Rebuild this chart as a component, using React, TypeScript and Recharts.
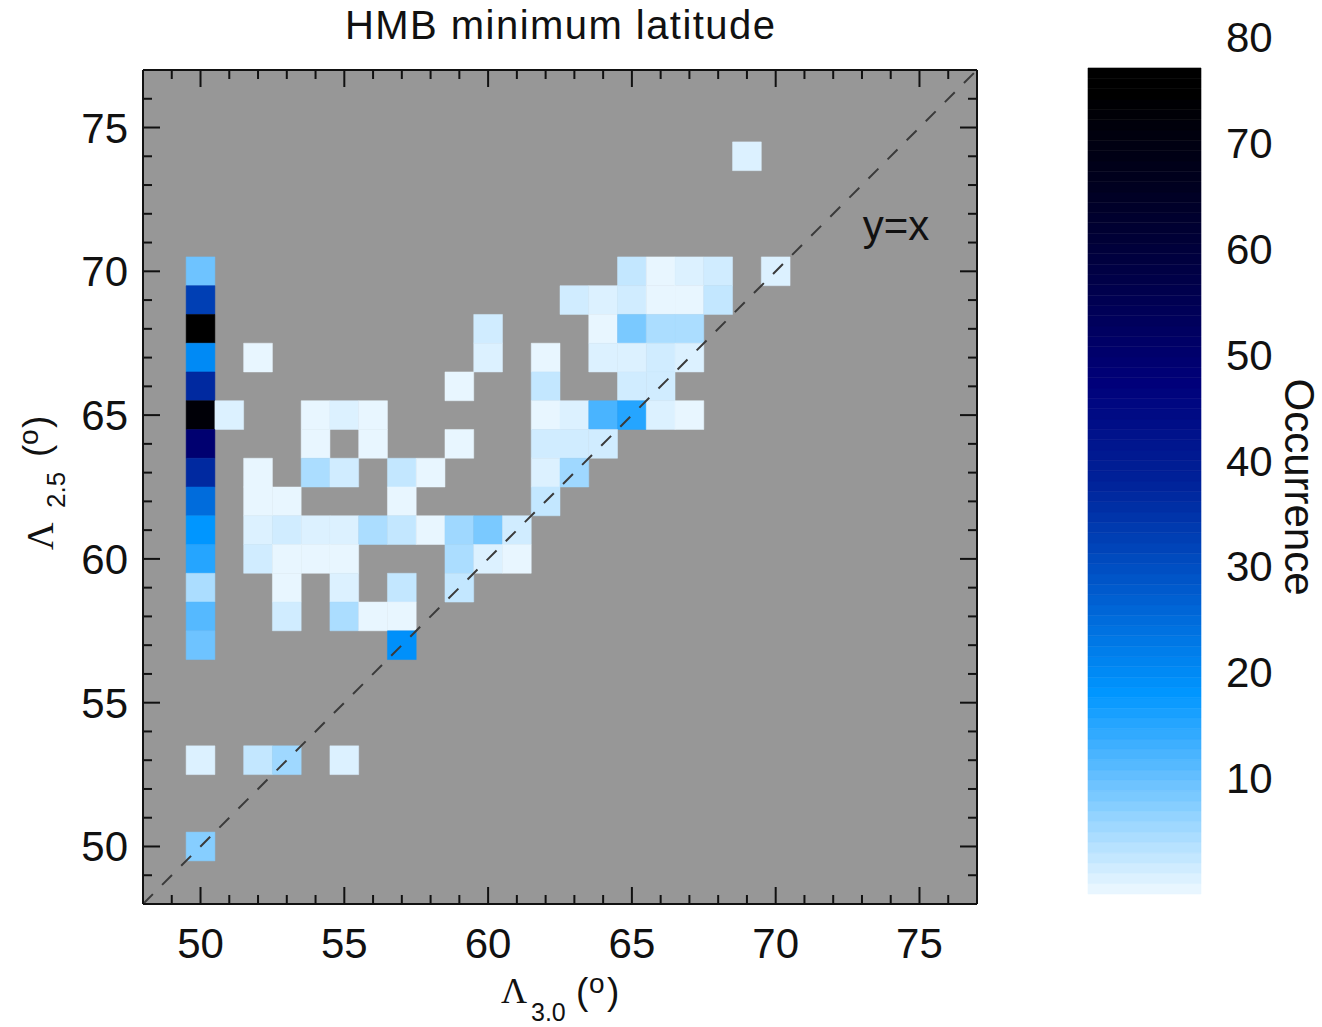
import React from 'react';
import {
  ScatterChart,
  XAxis,
  YAxis,
  ReferenceArea,
  ReferenceLine,
  ReferenceDot,
} from 'recharts';

// ---------------- data ----------------
const chartTitle = 'HMB minimum latitude';
const axisDomain: [number, number] = [48, 77];
// all integer tick positions (labels only on multiples of 5)
const axisTicks = [49, 50, 51, 52, 53, 54, 55, 56, 57, 58, 59, 60, 61, 62, 63, 64, 65, 66, 67, 68, 69, 70, 71, 72, 73, 74, 75, 76];
const colorbarTicks = [10, 20, 30, 40, 50, 60, 70, 80];
const colorbarMax = 80;

// histogram cells: Λ3.0 (x), Λ2.5 (y), occurrence count
const cellX = [
  69,
  50, 65, 66, 67, 68, 70,
  50, 63, 64, 65, 66, 67, 68,
  50, 60, 64, 65, 66, 67,
  50, 52, 60, 62, 64, 65, 66, 67,
  50, 59, 62, 65, 66,
  50, 51, 54, 55, 56, 62, 63, 64, 65, 66, 67,
  50, 54, 56, 59, 62, 63, 64,
  50, 52, 54, 55, 57, 58, 62, 63,
  50, 52, 53, 57, 62,
  50, 52, 53, 54, 55, 56, 57, 58, 59, 60, 61,
  50, 52, 53, 54, 55, 59, 60, 61,
  50, 53, 55, 57, 59,
  50, 53, 55, 56, 57,
  50, 57,
  50, 52, 53, 55,
  50,
];
const cellY = [
  74,
  70, 70, 70, 70, 70, 70,
  69, 69, 69, 69, 69, 69, 69,
  68, 68, 68, 68, 68, 68,
  67, 67, 67, 67, 67, 67, 67, 67,
  66, 66, 66, 66, 66,
  65, 65, 65, 65, 65, 65, 65, 65, 65, 65, 65,
  64, 64, 64, 64, 64, 64, 64,
  63, 63, 63, 63, 63, 63, 63, 63,
  62, 62, 62, 62, 62,
  61, 61, 61, 61, 61, 61, 61, 61, 61, 61, 61,
  60, 60, 60, 60, 60, 60, 60, 60,
  59, 59, 59, 59, 59,
  58, 58, 58, 58, 58,
  57, 57,
  53, 53, 53, 53,
  50,
];
const cellN = [
  2,
  11, 4, 1, 2, 3, 2,
  35, 3, 2, 3, 1, 1, 4,
  79, 3, 1, 10, 6, 6,
  22, 1, 2, 1, 2, 2, 3, 2,
  39, 1, 4, 3, 3,
  76, 2, 1, 2, 1, 1, 2, 14, 17, 2, 1,
  52, 1, 1, 1, 3, 3, 3,
  39, 1, 6, 3, 4, 1, 2, 7,
  27, 1, 1, 1, 4,
  20, 2, 3, 2, 2, 6, 4, 1, 7, 10, 3,
  17, 3, 1, 1, 1, 6, 2, 1,
  6, 1, 2, 4, 4,
  13, 3, 6, 1, 1,
  11, 21,
  2, 4, 7, 2,
  9,
];

// colour table stops: [value, r, g, b]
const cmapStops: number[][] = [
  [1, 232, 246, 255],
  [20, 0, 150, 255],
  [30, 0, 90, 205],
  [40, 0, 36, 155],
  [50, 0, 0, 122],
  [60, 0, 0, 72],
  [70, 0, 0, 28],
  [78, 0, 0, 0],
];

// ---------------- styles ----------------
const SANS = "'Liberation Sans', Arial, Helvetica, sans-serif";
const SERIF = "'Liberation Serif', 'Times New Roman', serif";
const INK = '#111111';
const PLOT_BG = '#979797';

function cmap(v: number): string {
  const s = cmapStops;
  if (v <= s[0][0]) return `rgb(${s[0][1]},${s[0][2]},${s[0][3]})`;
  for (let i = 1; i < s.length; i++) {
    if (v <= s[i][0]) {
      const t = (v - s[i - 1][0]) / (s[i][0] - s[i - 1][0]);
      const c = [1, 2, 3].map((k) => Math.round(s[i - 1][k] + t * (s[i][k] - s[i - 1][k])));
      return `rgb(${c[0]},${c[1]},${c[2]})`;
    }
  }
  const l = s[s.length - 1];
  return `rgb(${l[1]},${l[2]},${l[3]})`;
}

const MAJOR_LEN = 17;
const MINOR_LEN = 9;

function BottomTick(props: any) {
  const { x, y, payload } = props;
  const v = payload.value;
  const major = v % 5 === 0;
  return (
    <g>
      <line x1={x} y1={y} x2={x} y2={y - (major ? MAJOR_LEN : MINOR_LEN)} stroke={INK} strokeWidth={2} />
      {major && (
        <text x={x} y={y + 54} textAnchor="middle" fontSize={42} fontFamily={SANS} fill={INK}>
          {v}
        </text>
      )}
    </g>
  );
}

function TopTick(props: any) {
  const { x, y, payload } = props;
  const major = payload.value % 5 === 0;
  return <line x1={x} y1={y} x2={x} y2={y + (major ? MAJOR_LEN : MINOR_LEN)} stroke={INK} strokeWidth={2} />;
}

function LeftTick(props: any) {
  const { x, y, payload } = props;
  const v = payload.value;
  const major = v % 5 === 0;
  return (
    <g>
      <line x1={x} y1={y} x2={x + (major ? MAJOR_LEN : MINOR_LEN)} y2={y} stroke={INK} strokeWidth={2} />
      {major && (
        <text x={x - 15} y={y + 15} textAnchor="end" fontSize={42} fontFamily={SANS} fill={INK}>
          {v}
        </text>
      )}
    </g>
  );
}

function RightTick(props: any) {
  const { x, y, payload } = props;
  const major = payload.value % 5 === 0;
  return <line x1={x} y1={y} x2={x - (major ? MAJOR_LEN : MINOR_LEN)} y2={y} stroke={INK} strokeWidth={2} />;
}

function ColorbarTick(props: any) {
  const { x, y, payload } = props;
  return (
    <text x={x + 25} y={y + 15} textAnchor="start" fontSize={42} fontFamily={SANS} fill={INK}>
      {payload.value}
    </text>
  );
}

const bandIndex = Array.from({ length: colorbarMax }, (_, i) => i);

function MainChart() {
  return (
    <ScatterChart width={1000} height={1027} margin={{ top: 69, right: 22, bottom: 0, left: 0 }}>
      <XAxis
        xAxisId="b"
        dataKey="x"
        orientation="bottom"
        type="number"
        domain={axisDomain}
        allowDataOverflow
        ticks={axisTicks}
        interval={0}
        height={123}
        tickSize={0}
        tickMargin={0}
        tickLine={false}
        tick={BottomTick}
        axisLine={{ stroke: INK, strokeWidth: 2 }}
      />
      <XAxis
        xAxisId="t"
        dataKey="x"
        orientation="top"
        type="number"
        domain={axisDomain}
        allowDataOverflow
        ticks={axisTicks}
        interval={0}
        height={1}
        tickSize={0}
        tickMargin={0}
        tickLine={false}
        tick={TopTick}
        axisLine={{ stroke: INK, strokeWidth: 2 }}
      />
      <YAxis
        yAxisId="l"
        dataKey="y"
        orientation="left"
        type="number"
        domain={axisDomain}
        allowDataOverflow
        ticks={axisTicks}
        interval={0}
        width={143}
        tickSize={0}
        tickMargin={0}
        tickLine={false}
        tick={LeftTick}
        axisLine={{ stroke: INK, strokeWidth: 2 }}
      />
      <YAxis
        yAxisId="r"
        dataKey="y"
        orientation="right"
        type="number"
        domain={axisDomain}
        allowDataOverflow
        ticks={axisTicks}
        interval={0}
        width={1}
        tickSize={0}
        tickMargin={0}
        tickLine={false}
        tick={RightTick}
        axisLine={{ stroke: INK, strokeWidth: 2 }}
      />
      <ReferenceArea
        xAxisId="b"
        yAxisId="l"
        x1={axisDomain[0]}
        x2={axisDomain[1]}
        y1={axisDomain[0]}
        y2={axisDomain[1]}
        fill={PLOT_BG}
        fillOpacity={1}
        stroke="none"
        ifOverflow="visible"
      />
      {cellX.map((cx, i) => (
        <ReferenceArea
          key={`c${i}`}
          xAxisId="b"
          yAxisId="l"
          x1={cx - 0.5}
          x2={cx + 0.5}
          y1={cellY[i] - 0.5}
          y2={cellY[i] + 0.5}
          fill={cmap(cellN[i])}
          fillOpacity={1}
          stroke={cmap(cellN[i])}
          strokeWidth={0.5}
          ifOverflow="visible"
        />
      ))}
      <ReferenceLine
        xAxisId="b"
        yAxisId="l"
        segment={[
          { x: axisDomain[0], y: axisDomain[0] },
          { x: axisDomain[1], y: axisDomain[1] },
        ]}
        stroke="#3a3a3a"
        strokeWidth={2}
        strokeDasharray="14 13"
        ifOverflow="visible"
      />
      <ReferenceDot
        xAxisId="b"
        yAxisId="l"
        x={74.18}
        y={71.6}
        r={0}
        fill="none"
        stroke="none"
        ifOverflow="visible"
        label={{ value: 'y=x', position: 'center', fontSize: 42, fontFamily: SANS, fill: INK }}
      />
    </ScatterChart>
  );
}

function ColorBar() {
  return (
    <ScatterChart width={262} height={1027} margin={{ top: 30, right: 0, bottom: 133, left: 28 }}>
      <XAxis xAxisId="cx" dataKey="x" type="number" domain={[0, 1]} allowDataOverflow hide />
      <YAxis yAxisId="bar" dataKey="y" type="number" domain={[0, 83.68]} allowDataOverflow hide />
      <YAxis
        yAxisId="lab"
        dataKey="y"
        orientation="right"
        type="number"
        domain={[-0.945, 80.67]}
        allowDataOverflow
        ticks={colorbarTicks}
        interval={0}
        width={121}
        tickSize={0}
        tickMargin={0}
        tickLine={false}
        axisLine={false}
        tick={ColorbarTick}
      />
      {bandIndex.map((i) => (
        <ReferenceArea
          key={`b${i}`}
          xAxisId="cx"
          yAxisId="bar"
          x1={0}
          x2={1}
          y1={i}
          y2={i + 1}
          fill={cmap(i + 1)}
          fillOpacity={1}
          stroke={cmap(i + 1)}
          strokeWidth={0.6}
          ifOverflow="visible"
        />
      ))}
    </ScatterChart>
  );
}

function TextLayer() {
  return (
    <svg width={1322} height={1027} style={{ position: 'absolute', left: 0, top: 0, pointerEvents: 'none' }}>
      <text x={560} y={39} textAnchor="middle" fontSize={40} fontFamily={SANS} fill={INK} textLength={430} lengthAdjust="spacing">
        {chartTitle}
      </text>
      {/* x axis title */}
      <g transform="translate(501,1003)" fill={INK}>
        <text x={0} y={0} fontSize={36} fontFamily={SERIF}>Λ</text>
        <text x={30} y={18} fontSize={25} fontFamily={SANS}>3.0</text>
        <text x={75} y={1} fontSize={37} fontFamily={SANS}>(</text>
        <text x={88} y={-10} fontSize={28} fontFamily={SANS}>o</text>
        <text x={106} y={1} fontSize={37} fontFamily={SANS}>)</text>
      </g>
      {/* y axis title */}
      <g transform="translate(53,550) rotate(-90)" fill={INK}>
        <text x={0} y={0} fontSize={38} fontFamily={SERIF}>Λ</text>
        <text x={42} y={12} fontSize={26} fontFamily={SANS}>2.5</text>
        <text x={93} y={-4} fontSize={37} fontFamily={SANS}>(</text>
        <text x={105} y={-15} fontSize={28} fontFamily={SANS}>o</text>
        <text x={122} y={-4} fontSize={37} fontFamily={SANS}>)</text>
      </g>
      {/* colour bar title */}
      <text
        x={0}
        y={0}
        transform="translate(1285,487) rotate(90)"
        textAnchor="middle"
        fontSize={42}
        fontFamily={SANS}
        fill={INK}
      >
        Occurrence
      </text>
    </svg>
  );
}

export default function App() {
  return (
    <div style={{ position: 'absolute', left: 0, top: 0, width: 1322, height: 1027, background: '#ffffff', overflow: 'hidden' }}>
      <div style={{ position: 'absolute', left: 0, top: 0 }}>
        <MainChart />
      </div>
      <div style={{ position: 'absolute', left: 1060, top: 0 }}>
        <ColorBar />
      </div>
      <TextLayer />
    </div>
  );
}
